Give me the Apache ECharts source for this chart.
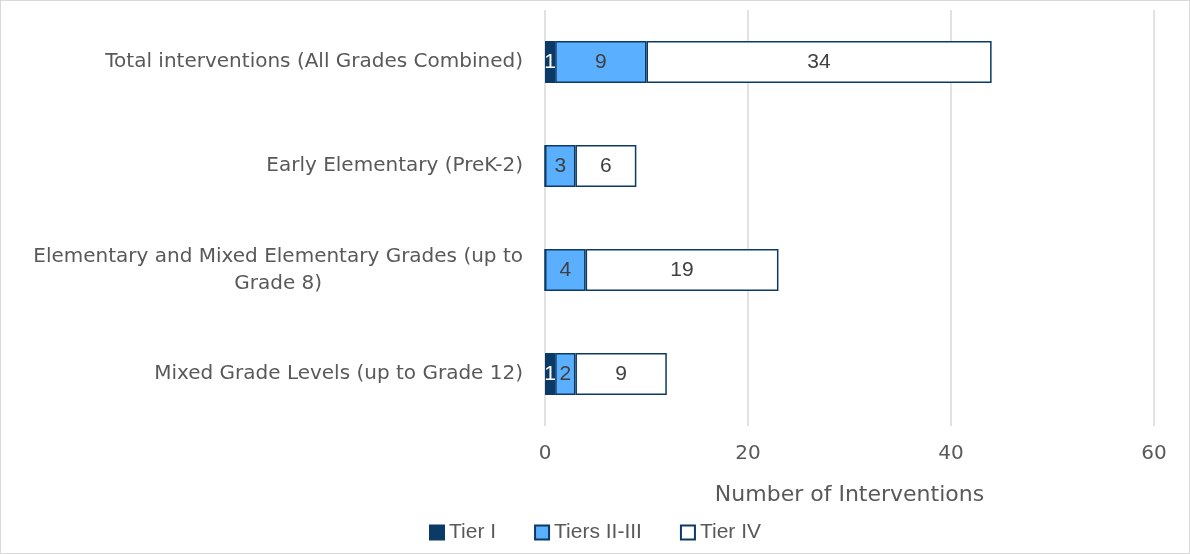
<!DOCTYPE html>
<html><head><meta charset="utf-8">
<script src="https://cdn.jsdelivr.net/npm/echarts@6/dist/echarts.min.js"></script>
<style>html,body{margin:0;padding:0;background:#fff}#c{width:1190px;height:554px;box-sizing:border-box;border:1px solid #d9d9d9}</style>
</head><body><div id="c"></div>
<script>
const categories = ["Total interventions (All Grades Combined)", "Early Elementary (PreK-2)", "Elementary and Mixed Elementary Grades (up to Grade 8)", "Mixed Grade Levels (up to Grade 12)"];
const tier1 = [1, 0, 0, 1];
const tier23 = [9, 3, 4, 2];
const tier4 = [34, 6, 19, 9];
const xTicks = [0, 20, 40, 60];

const navy = '#0b3a66';
const catFont = 'DejaVu Sans, sans-serif';
function wrap(s, n) {
  if (s.length <= n) return [s];
  const i = s.lastIndexOf(' ', n);
  return [s.slice(0, i), s.slice(i + 1)];
}
const lbl = (color) => ({show: true, color: color, fontSize: 21, fontFamily: 'Liberation Sans, Arial, sans-serif',
  formatter: p => p.value ? p.value : ''});
const chart = echarts.init(document.getElementById('c'), null, {renderer: 'canvas'});
chart.setOption({
  animation: false,
  grid: {left: 544, right: 35, top: 9, height: 416, containLabel: false},
  legend: {bottom: 5, left: 'center', icon: 'rect', itemWidth: 14, itemHeight: 14, itemGap: 38,
    textStyle: {fontSize: 21, color: '#595959', fontFamily: 'Liberation Sans, Arial, sans-serif'},
    data: ['Tier I', 'Tiers II-III', 'Tier IV']},
  xAxis: {type: 'value', min: xTicks[0], max: xTicks[xTicks.length - 1], interval: 20,
    name: 'Number of Interventions', nameLocation: 'middle', nameGap: 58,
    nameTextStyle: {fontSize: 22, color: '#595959', fontFamily: catFont},
    axisLine: {show: false}, axisTick: {show: false},
    axisLabel: {fontSize: 20, color: '#595959', margin: 18, fontFamily: catFont},
    splitLine: {lineStyle: {color: '#d9d9d9', width: 1.5}}},
  yAxis: {type: 'category', data: categories, inverse: true,
    axisLine: {show: false}, axisTick: {show: false},
    axisLabel: {fontSize: 20, color: '#595959', margin: 22, fontFamily: catFont, lineHeight: 27,
      formatter: v => wrap(v, 46).map(l => '{c|' + l + '}').join('\n'),
      rich: {c: {align: 'center', fontSize: 20, color: '#595959', fontFamily: catFont, lineHeight: 27}}}},
  series: [
    {name: 'Tier I', type: 'bar', stack: 's', data: tier1, barWidth: 42,
      itemStyle: {color: navy, borderColor: navy, borderWidth: 1.5}, label: lbl('#ffffff')},
    {name: 'Tiers II-III', type: 'bar', stack: 's', data: tier23, barWidth: 42,
      itemStyle: {color: '#5aafff', borderColor: navy, borderWidth: 1.5}, label: lbl('#404040')},
    {name: 'Tier IV', type: 'bar', stack: 's', data: tier4, barWidth: 42,
      itemStyle: {color: '#ffffff', borderColor: navy, borderWidth: 1.5}, label: lbl('#404040')}
  ]
});
</script></body></html>
